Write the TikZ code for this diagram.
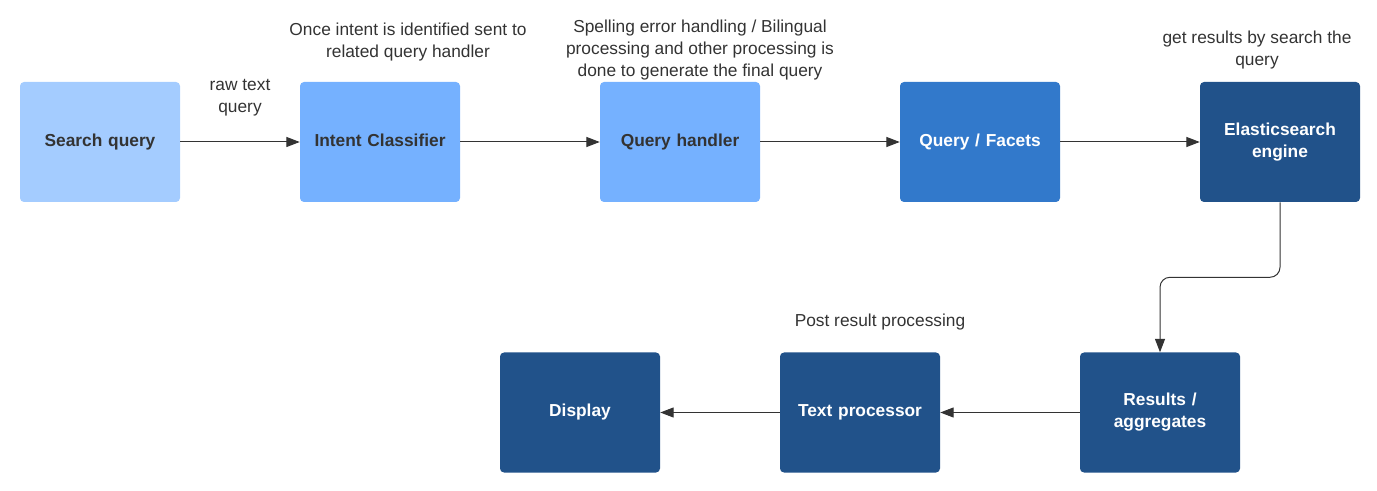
\documentclass[tikz,border=0pt]{standalone}
\usepackage{fontspec}
\setmainfont{Liberation Sans}
\usetikzlibrary{%
  arrows.meta,%
  positioning,%
  calc%
}
\definecolor{paleblue}{HTML}{A4CCFF}
\definecolor{midblue}{HTML}{75B1FF}
\definecolor{deepblue}{HTML}{3279CB}
\definecolor{navyblue}{HTML}{21528A}
\definecolor{inkgrey}{HTML}{333333}
\tikzset{
  stagebox/.style={rounded corners=3pt, minimum width=120pt, minimum height=90pt,
    inner sep=2pt, font=\bfseries\fontsize{13}{16.5}\selectfont, align=center, text width=112pt,
    execute at begin node=\strut, execute at end node=\strut},
  lightbox/.style={stagebox, fill=#1, text=inkgrey},
  darkbox/.style={stagebox, fill=#1, text=white},
  note/.style={align=center, text=inkgrey, font=\fontsize{13}{16.5}\selectfont},
  flow/.style={draw=inkgrey, line width=0.75pt, -{Triangle[length=10pt,width=7.5pt]}}
}
\begin{document}
\begin{tikzpicture}[x=0.75pt,y=-0.75pt]
\useasboundingbox (0,0) rectangle (1377,491);
% top row
\node [lightbox=paleblue] (search) at (100,142) {Search query};
\node [lightbox=midblue] (intent) at (380,142) {Intent Classifier};
\node [lightbox=midblue] (handler) at (680,142) {Query handler};
\node [darkbox=deepblue] (facets) at (980,142) {Query / Facets};
\node [darkbox=navyblue] (elastic) at (1280,142) {Elasticsearch\\engine};
% bottom row
\node [darkbox=navyblue] (results) at (1160,412.5) {Results /\\aggregates};
\node [darkbox=navyblue] (textproc) at (860,412.5) {Text processor};
\node [darkbox=navyblue] (display) at (580,412.5) {Display};
% notes
\node [note] (rawnote) at (240,97.5) {raw text\\query};
\node [note] (intentnote) at (408,42.5) {Once intent is identified sent to\\related query handler};
\node [note] (handlernote) at (700,50) {Spelling error handling / Bilingual\\processing and other processing is\\done to generate the final query};
\node [note] (elasticnote) at (1257,50) {get results by search the\\query};
\node [note] (postnote) at (880,322) {Post result processing};
% connectors
\draw [flow] (search) -- (intent);
\draw [flow] (intent) -- (handler);
\draw [flow] (handler) -- (facets);
\draw [flow] (facets) -- (elastic);
\draw [flow, rounded corners=7.5pt] (elastic.south) -- ++(0,75) -| (results.north);
\draw [flow] (results) -- (textproc);
\draw [flow] (textproc) -- (display);
\end{tikzpicture}
\end{document}
